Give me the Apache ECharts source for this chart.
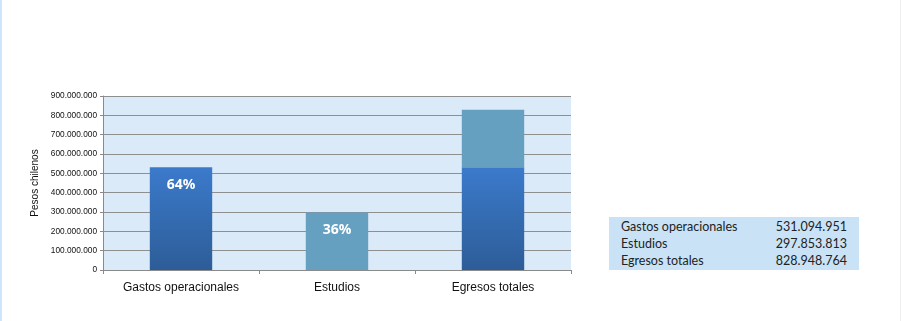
<!DOCTYPE html>
<html>
<head>
<meta charset="utf-8">
<script src="https://cdn.jsdelivr.net/npm/echarts@6/dist/echarts.min.js"></script>
<style>
html,body{margin:0;padding:0;background:#fff;}
#wrap{position:relative;width:903px;height:321px;overflow:hidden;}
#chart{position:absolute;left:0;top:0;width:903px;height:321px;}
#lb{position:absolute;left:0;top:0;width:2px;height:321px;background:#cfe5fa;}
#rb{position:absolute;left:900px;top:0;width:1px;height:321px;background:#eeeeee;}
#tbl{position:absolute;left:609px;top:217px;width:250px;height:53px;background:#c9e2f6;font-family:Lato,"Open Sans",sans-serif;font-size:12.5px;color:#222;}
#tbl div{position:absolute;left:12px;right:12px;height:17px;line-height:17px;}
#tbl span.v{position:absolute;right:0;}
</style>
</head>
<body>
<div id="wrap">
<div id="chart"></div>
<div id="lb"></div>
<div id="rb"></div>
<div id="tbl"></div>
</div>
<script>
const categories = ['Gastos operacionales', 'Estudios', 'Egresos totales'];
const gastos = [531094951, null, 531094951];
const estudios = [null, 297853813, 297853813];
const tableLabels = ['Gastos operacionales', 'Estudios', 'Egresos totales'];
const tableValues = [531094951, 297853813, 828948764];
const yTicks = [0, 100000000, 200000000, 300000000, 400000000, 500000000, 600000000, 700000000, 800000000, 900000000];

function fmt(n){ return String(n).replace(/\B(?=(\d{3})+(?!\d))/g, '.'); }

const total = tableValues[2];
const tbl = document.getElementById('tbl');
tableLabels.forEach((l, i) => {
  const d = document.createElement('div');
  d.style.top = (1 + i * 17) + 'px';
  d.innerHTML = '<span>' + l + '</span><span class="v">' + fmt(tableValues[i]) + '</span>';
  tbl.appendChild(d);
});

const chart = echarts.init(document.getElementById('chart'), null, {renderer: 'canvas'});
const labelStyle = {
  show: true, position: 'insideTop', distance: 11,
  color: '#ffffff', fontWeight: 'bold', fontSize: 14,
  fontFamily: '"Open Sans","Noto Sans",sans-serif'
};
chart.setOption({
  animation: false,
  grid: {left: 103, right: 332, top: 96, bottom: 51, show: true, backgroundColor: '#dbeaf8', borderWidth: 0},
  xAxis: {
    type: 'category', data: categories,
    axisLine: {show: true, lineStyle: {color: '#8a8a8a'}},
    axisTick: {show: true, length: 4, lineStyle: {color: '#8a8a8a'}},
    axisLabel: {color: '#111', fontSize: 12, fontFamily: '"Liberation Sans",Arial,sans-serif', margin: 12}
  },
  yAxis: {
    type: 'value', min: yTicks[0], max: yTicks[yTicks.length - 1], interval: yTicks[1] - yTicks[0],
    name: 'Pesos chilenos', nameLocation: 'middle', nameGap: 62, nameRotate: 90,
    nameTextStyle: {color: '#111', fontSize: 10, fontFamily: '"Liberation Sans",Arial,sans-serif'},
    axisLine: {show: true, lineStyle: {color: '#8a8a8a'}},
    axisTick: {show: true, length: 3, lineStyle: {color: '#8a8a8a'}},
    splitLine: {show: true, lineStyle: {color: '#8f8f8f', width: 1}},
    axisLabel: {color: '#111', fontSize: 8.3, margin: 6,
      fontFamily: '"Liberation Sans Narrow","Liberation Sans",sans-serif',
      formatter: v => fmt(v)}
  },
  series: [
    {
      name: 'Gastos operacionales', type: 'bar', stack: 'a', data: gastos,
      barCategoryGap: '60%',
      itemStyle: {color: new echarts.graphic.LinearGradient(0, 0, 0, 1, [
        {offset: 0, color: '#3b7acb'}, {offset: 1, color: '#2d5d98'}])},
      label: Object.assign({}, labelStyle, {
        formatter: p => p.dataIndex === 0 ? Math.round(p.value / total * 100) + '%' : ''
      })
    },
    {
      name: 'Estudios', type: 'bar', stack: 'a', data: estudios,
      barCategoryGap: '60%',
      itemStyle: {color: '#65a0c1'},
      label: Object.assign({}, labelStyle, {
        formatter: p => p.dataIndex === 1 ? Math.round(p.value / total * 100) + '%' : ''
      })
    }
  ]
});
</script>
</body>
</html>
